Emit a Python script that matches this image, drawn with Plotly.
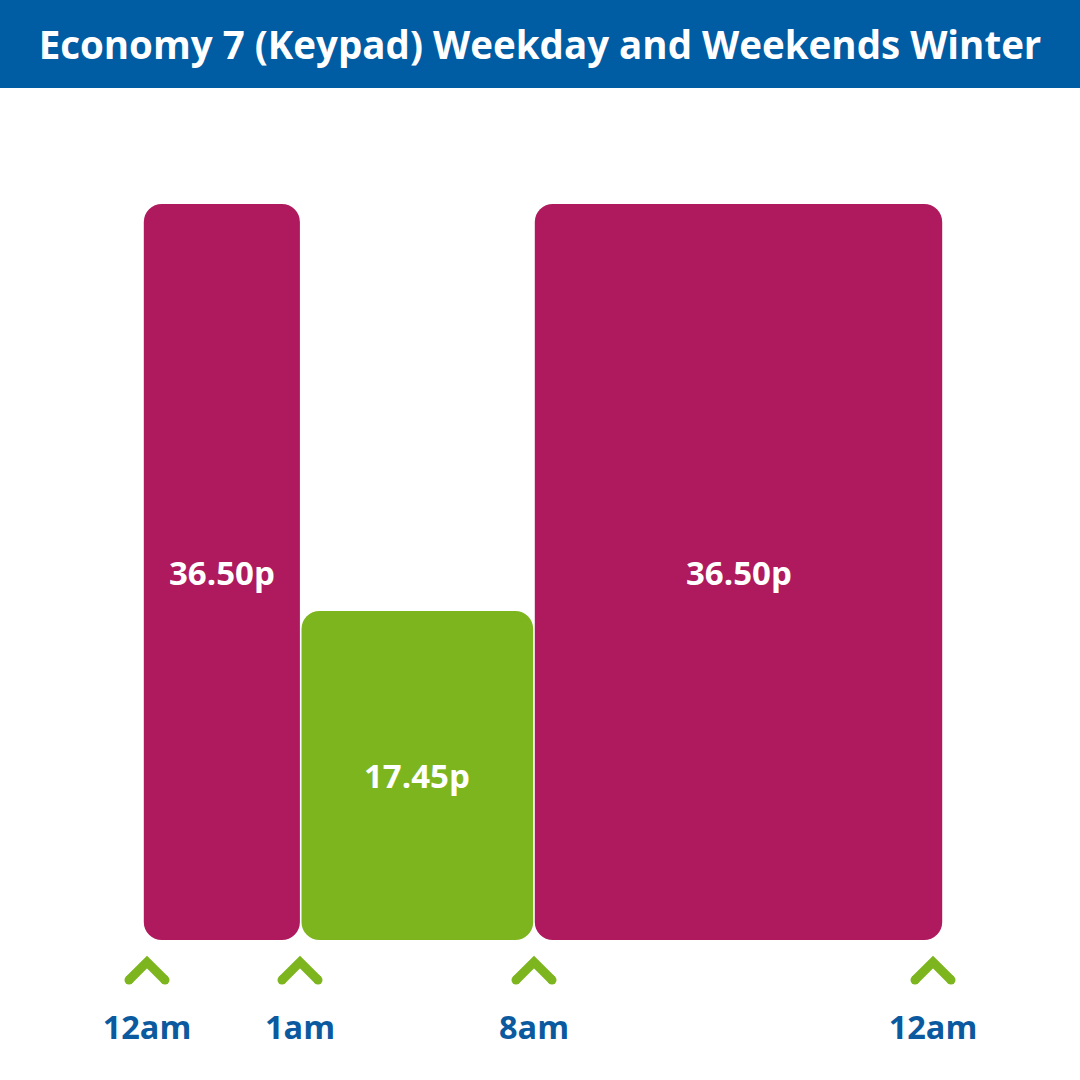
import plotly.graph_objects as go

# ---- data ----
title_text = "Economy 7 (Keypad) Weekday and Weekends Winter"
periods = ["12am-1am", "1am-8am", "8am-12am"]
prices = [36.50, 17.45, 36.50]          # pence per kWh
rate_type = ["peak", "offpeak", "peak"]
tick_labels = ["12am", "1am", "8am", "12am"]

# ---- layout / styling (display positions, not data) ----
W = H = 1080
T, B = 88, 75
slot_edges = [143, 300.7, 534, 943]        # display x of period boundaries
tick_pos = [147, 300, 534, 933]            # display x of time markers
bar_gap = 1.6
base_level = 2.05                          # visual baseline of the bars
# y scale: price 36.50 at px 204, 17.45 at px 611 (pixels from top)
k = (36.50 - 17.45) / (611 - 204)
y_range = [17.45 - (H - B - 611) * k, 36.50 + (204 - T) * k]
colors = {"peak": "#AE1A5D", "offpeak": "#7DB51F"}
blue = "#005CA3"
label_blue = "#0B5AA0"
green = "#7DB51F"
FONT = "Open Sans"

centers = [(a + b) / 2 for a, b in zip(slot_edges[:-1], slot_edges[1:])]
widths = [(b - a) - bar_gap for a, b in zip(slot_edges[:-1], slot_edges[1:])]
mids = [(base_level + p) / 2 for p in prices]
bar_colors = [colors[r] for r in rate_type]

fig = go.Figure()
fig.add_trace(go.Bar(
    x=centers, y=[p - base_level for p in prices], base=base_level,
    width=widths, marker=dict(color=bar_colors, line=dict(width=0)),
    hoverinfo="skip", showlegend=False))

# chevron markers at time ticks (drawn on a pixel-like overlay axis)
cx, cy, ex, ey = [], [], [], []
for t in tick_pos:
    cx += [t - 18, t, t + 18, None]
    cy += [980, 962, 980, None]
    ex += [t - 18, t + 18]
    ey += [980, 980]
fig.add_trace(go.Scatter(
    x=cx, y=cy, yaxis="y2", mode="lines",
    line=dict(color=green, width=9),
    hoverinfo="skip", showlegend=False))
fig.add_trace(go.Scatter(
    x=ex, y=ey, yaxis="y2", mode="markers",
    marker=dict(color=green, size=9, line=dict(width=0)),
    hoverinfo="skip", showlegend=False))

for c, m, p in zip(centers, mids, prices):
    fig.add_annotation(x=c, y=m, text=f"<b>{p:.2f}p</b>", showarrow=False,
                       font=dict(family=FONT, size=33, color="white"),
                       xanchor="center", yanchor="middle")

plot_h = H - T - B
fig.add_shape(type="rect", xref="paper", yref="paper",
              x0=0, x1=1, y0=1, y1=1 + T / plot_h,
              fillcolor=blue, line=dict(width=0), layer="below")

fig.update_layout(
    width=W, height=H,
    margin=dict(l=0, r=0, t=T, b=B, pad=0),
    paper_bgcolor="white", plot_bgcolor="white",
    barmode="overlay", barcornerradius=18,
    title=dict(text=f"<b>{title_text}</b>", x=0.5, xanchor="center",
               xref="paper", y=1 - 46 / H, yref="container", yanchor="middle",
               font=dict(family=FONT, size=38.5, color="white")),
    xaxis=dict(range=[0, W], tickvals=tick_pos, ticktext=[f"<b>{t}</b>" for t in tick_labels],
               showgrid=False, zeroline=False, showline=False, ticks="",
               tickfont=dict(family=FONT, size=32.5, color=label_blue),
               ticklabelstandoff=0, fixedrange=True),
    yaxis=dict(range=y_range, visible=False, showgrid=False, zeroline=False),
    yaxis2=dict(range=[H - B, T], overlaying="y", visible=False,
                showgrid=False, zeroline=False),
)

fig.write_html("out.html", config={"displayModeBar": False},
               post_script="document.body.style.margin='0';")
